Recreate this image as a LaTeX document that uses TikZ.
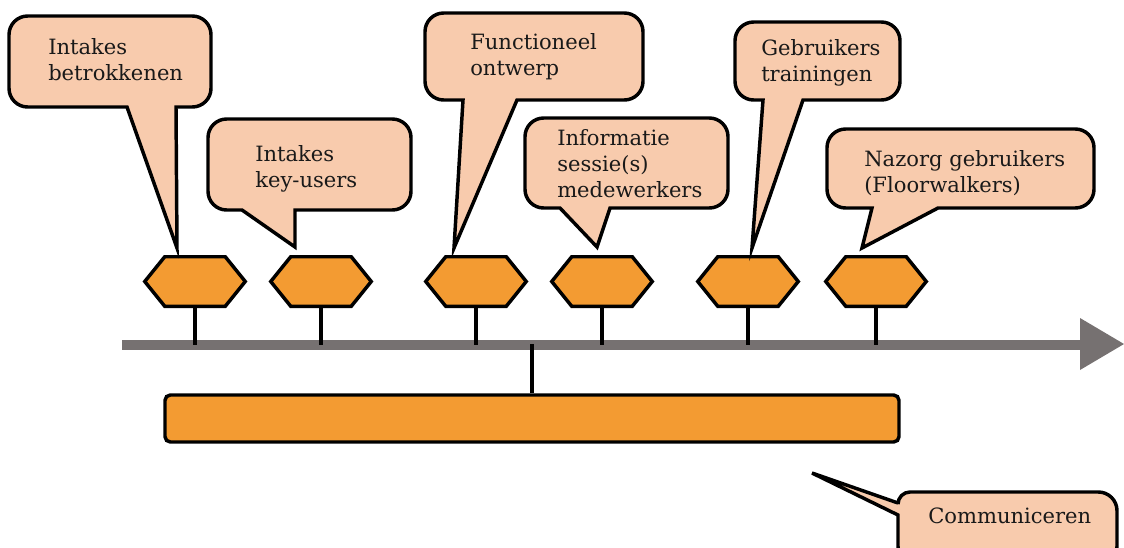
\documentclass[tikz,border=0pt]{standalone}
\usepackage{fontspec}
\setmainfont{DejaVu Serif}
\usetikzlibrary{calc}
\definecolor{peach}{HTML}{F8CBAD}
\definecolor{hexorange}{HTML}{F39B32}
\definecolor{axisgray}{HTML}{767171}
\tikzset{
  callout/.style={draw=black, fill=peach, line width=2.6pt, line join=miter},
  txt/.style={font=\fontsize{15.8}{19.5}\selectfont, align=left, inner sep=0pt, anchor=base west, text=black!90},
  hexbox/.style={minimum width=75pt, minimum height=36.75pt, inner sep=0pt},
  hexline/.style={draw=black, fill=hexorange, line width=2.6pt, line join=miter},
  stem/.style={draw=black, line width=2.5pt},
  barbox/.style={draw=black, fill=hexorange, line width=2.6pt, rounded corners=4pt, minimum width=550.5pt, minimum height=35.25pt, inner sep=0pt},
  axisline/.style={draw=axisgray, line width=7.5pt}
}
\begin{document}
\begin{tikzpicture}[x=0.75pt, y=-0.75pt]
\useasboundingbox (0,0) rectangle (1124,547);
\clip (0,0) rectangle (1124,547);

% timeline
\coordinate (ax0) at (122,345);
\coordinate (ax1) at (1080,345);
\coordinate (axtip) at (1124,344);
\draw[axisline] (ax0) -- (ax1);
\fill[axisgray] ($(ax1)+(0,-27)$) -- (axtip) -- ($(ax1)+(0,25)$) -- cycle;

% hexagon milestones
\foreach \n/\x in {h1/195, h2/321, h3/476, h4/602, h5/748, h6/876}{
  \node[hexbox] (\n) at (\x,281.5) {};
  \draw[stem] (\n.south) -- (\n.south |- ax0);
  \draw[hexline] (\n.west) -- ($(\n.north west)+(20,0)$) -- ($(\n.north east)+(-20,0)$) -- (\n.east) -- ($(\n.south east)+(-20,0)$) -- ($(\n.south west)+(20,0)$) -- cycle;
}

% bar
\node[barbox] (bar) at (532,418.5) {};
\draw[stem] (bar.north) -- ($(bar.north |- ax0)+(0,-1)$);

% callout 1
\coordinate (c1tip) at (177,248);
\draw[callout] (c1tip) -- (176,107) [rounded corners=14] -- (211,107) -- (211,16) -- (9,16) -- (9,107) [sharp corners] -- (127,107) -- cycle;
\node[txt] (t1) at (48,80) {Intakes\\betrokkenen};

% callout 2
\coordinate (c2tip) at (295,247);
\draw[callout] (c2tip) -- (295,210) [rounded corners=14] -- (411,210) -- (411,119) -- (208,119) -- (208,210) [sharp corners] -- (242,210) -- cycle;
\node[txt] (t2) at (255,187) {Intakes\\key-users};

% callout 3
\coordinate (c3tip) at (454,248);
\draw[callout] (c3tip) -- (517,100) [rounded corners=14] -- (643,100) -- (643,13) -- (425,13) -- (425,100) [sharp corners] -- (463,100) -- cycle;
\node[txt] (t3) at (470,75) {Functioneel\\ontwerp};

% callout 4
\coordinate (c4tip) at (597,247);
\draw[callout] (c4tip) -- (610,208) [rounded corners=14] -- (728,208) -- (728,118) -- (525,118) -- (525,208) [sharp corners] -- (560,208) -- cycle;
\node[txt] (t4) at (557,197) {Informatie\\sessie(s)\\medewerkers};

% callout 5
\coordinate (c5tip) at (752,248);
\draw[callout] (c5tip) -- (803,100) [rounded corners=14] -- (900,100) -- (900,22) -- (735,22) -- (735,100) [sharp corners] -- (763,100) -- cycle;
\node[txt] (t5) at (761,81) {Gebruikers\\trainingen};

% callout 6
\coordinate (c6tip) at (862,248);
\draw[callout] (c6tip) -- (938,208) [rounded corners=14] -- (1094,208) -- (1094,129) -- (827,129) -- (827,208) [sharp corners] -- (872,208) -- cycle;
\node[txt] (t6) at (864,192) {Nazorg gebruikers\\(Floorwalkers)};

% callout 7
\coordinate (c7tip) at (812,473);
\draw[callout] (c7tip) -- (898,503) [rounded corners=9] -- (898,492) [rounded corners=14] -- (1117,492) -- (1117,565) -- (898,565) [sharp corners] -- (898,515) -- cycle;
\node[txt] (t7) at (928,523) {Communiceren};
\end{tikzpicture}
\end{document}
